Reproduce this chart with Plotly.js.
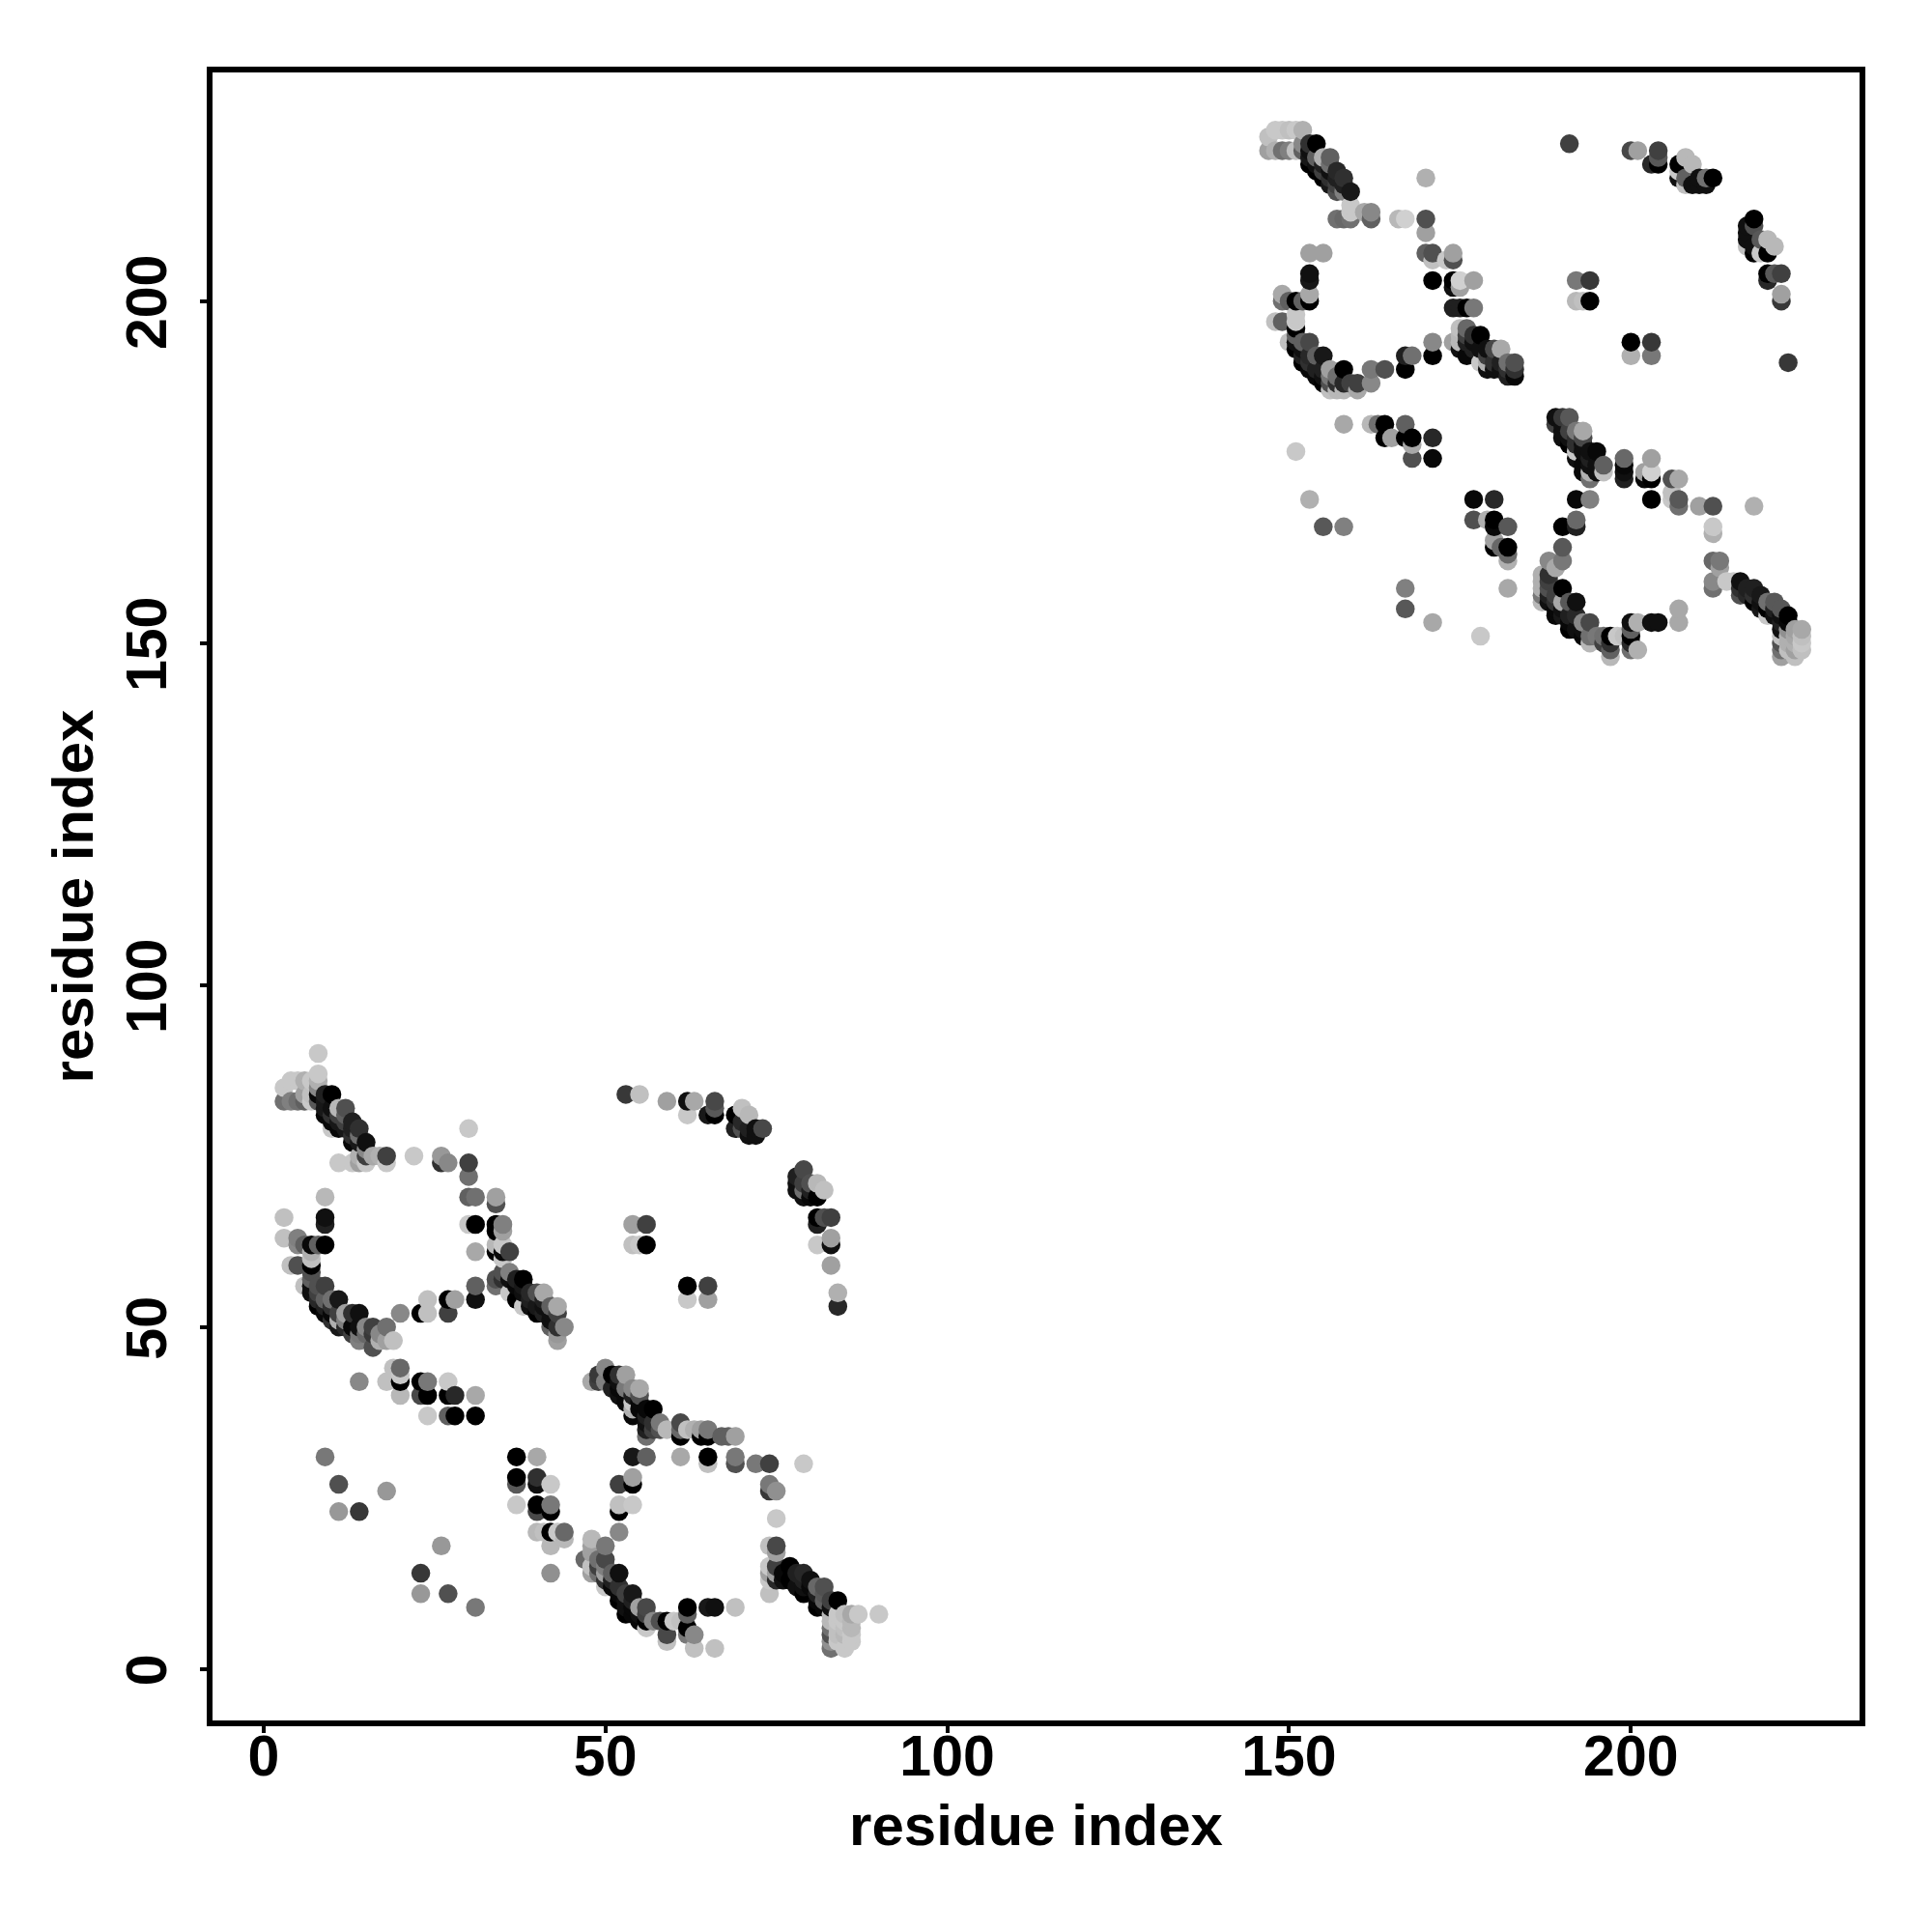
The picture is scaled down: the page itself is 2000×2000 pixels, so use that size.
<!DOCTYPE html>
<html>
<head>
<meta charset="utf-8">
<script src="https://cdn.plot.ly/plotly-3.0.1.min.js"></script>
<style>html,body{margin:0;padding:0;background:#fff}</style>
</head>
<body>
<div id="chart" style="width:2000px;height:2000px"></div>
<script>
// Contacts: [residue i, residue j, grey level 0-255]
const domainOneUpperLeft = [
[3,85,200],[4,86,200],[5,86,200],[6,86,176],[7,86,200],[8,87,200],[8,90,200],[8,86,176],
[3,83,112],[4,83,128],[5,83,112],[6,83,96],[7,83,200],[6,84,160],[7,84,192],[8,85,136],[8,84,8],[8,83,88],
[9,84,32],[10,84,0],[9,83,24],[9,82,24],[9,81,8],[10,82,16],[10,81,48],[11,82,184],[11,81,64],[11,80,24],[10,80,8],[10,79,200],
[11,79,8],[12,82,80],[12,81,96],[12,80,64],[12,79,24],[13,80,32],[13,79,32],[13,78,48],[13,77,8],[14,79,48],[14,78,112],[14,77,24],
[14,75,176],[14,74,160],[15,77,16],[15,76,136],[15,75,64],[15,74,200],[13,74,200],[11,74,200],[16,75,168],[17,75,176],[18,75,64],[18,74,200],
[22,75,200],[26,75,152],[26,74,48],[27,74,136],[30,79,200],[30,74,64],[30,72,112],[30,69,96],[31,69,112],[34,69,160],[34,68,80],
[30,65,200],[31,65,0],[34,65,0],[35,65,128],[34,64,0],[35,64,160],[31,61,168],[34,62,184],[34,61,0],[35,62,200],[35,60,200],[35,61,8],[36,61,64],
[31,56,96],[31,54,16],[34,56,112],[34,57,80],[35,58,80],[35,57,48],[36,58,128],[36,57,16],[37,57,32],[38,57,0],[37,56,8],[37,54,0],[36,55,200],[38,55,16],[38,56,24],
[39,55,40],[39,54,32],[39,53,16],[40,55,80],[41,55,168],[38,53,200],[40,53,24],[41,54,32],[40,52,0],[41,53,16],[41,52,32],[42,53,96],[42,52,16],[42,51,16],[43,53,168],[43,52,64],[43,50,48],[44,50,136],[43,49,152],[43,48,160],[42,50,96]
];
const domainOneRing = [
[9,69,184],[9,66,16],[9,65,32],[3,66,192],[3,63,192],[5,63,128],[5,62,136],[6,62,96],[7,62,8],[8,62,96],[9,62,0],[7,61,176],[7,60,192],[4,59,192],[5,59,80],
[7,59,0],[7,58,80],[7,57,96],[6,56,192],[7,56,16],[8,56,80],[9,56,64],[7,55,16],[8,55,64],[8,54,40],[8,53,0],[9,54,96],[9,53,32],[10,54,112],[11,54,24],[9,52,8],
[10,53,48],[10,52,8],[11,52,64],[10,51,48],[11,51,176],[11,50,24],[12,52,160],[12,51,128],[12,50,40],[13,52,48],[13,50,8],[14,52,16],[13,49,64],[14,50,16],[14,49,120],[14,48,128],
[15,50,136],[15,49,104],[16,50,64],[16,49,56],[16,47,80],[17,49,136],[17,48,176],[18,50,112],[18,48,160],[19,48,192],[20,52,136],[23,52,0],[24,52,192],[24,54,192],[27,54,0],[27,52,64],[28,54,160]
];
const domainOneMiddleLeft = [
[19,44,192],[20,44,104],[20,43,200],[14,42,136],[18,42,192],[20,42,0],[20,40,184],[23,42,0],[24,42,120],[23,40,72],[24,40,0],[27,42,200],[27,40,0],[28,40,40],[31,40,168],
[24,37,200],[27,37,96],[28,37,0],[31,37,0],
[9,31,120],[11,27,80],[11,23,152],[14,23,56],[18,26,152],
[37,31,0],[40,31,168],[37,27,88],[37,28,0],[40,27,16],[40,28,48],[42,27,200],[37,24,200],[40,23,72],[40,24,0],[42,23,0],[42,24,120],
[40,20,184],[41,20,192],[42,20,0],[43,20,200],[44,19,184],[44,20,104],[42,18,184],[42,14,144],
[26,18,152],[23,14,56],[23,11,152],[27,11,80],[31,9,120]
];
const domainOneUpperRight = [
[53,84,56],[55,84,192],[59,83,160],[62,83,16],[63,83,168],[62,81,200],[65,81,24],[66,81,0],[66,82,88],[66,83,72],
[69,81,0],[69,79,32],[70,82,192],[70,80,40],[70,79,80],[71,81,184],[71,79,32],[71,78,16],[72,79,16],[72,78,16],[73,79,72],
[78,72,32],[78,71,16],[78,70,16],[79,73,72],[79,71,64],[79,70,112],[79,69,16],[80,71,80],[80,70,32],[80,69,8],[81,71,184],[81,69,0],[82,70,192],
[81,66,0],[81,65,32],[82,66,80],[83,66,64],[81,62,200],[83,62,16],[83,63,160],[83,59,160],[84,53,40],[84,55,176],
[54,65,160],[56,65,64],[54,62,192],[55,62,200],[56,62,0],[62,54,200],[62,56,0],[65,54,160],[65,56,64]
];
const domainOneLowerRight = [
[48,42,168],[49,43,56],[49,42,64],[50,44,136],[50,42,128],[51,43,0],[51,41,32],[52,43,48],[52,42,16],[52,41,8],[52,40,16],[53,43,160],[53,41,120],[53,40,8],[53,39,8],
[54,41,136],[54,40,32],[54,39,200],[54,38,176],[54,37,8],[55,41,168],[55,40,80],[55,39,8],[55,38,8],[56,38,8],[56,37,32],[56,36,16],[56,35,32],[56,34,112],
[57,38,0],[57,36,48],[57,35,64],[58,36,120],[58,35,80],[59,35,184],[61,36,72],[61,35,104],[61,34,0],[62,35,192],[63,35,176],[64,35,160],[64,34,0],[65,35,120],[65,34,0],[67,34,96],[68,34,96],[69,34,160],
[54,31,24],[56,31,96],[61,31,168],[65,30,192],[65,31,0],[69,30,80],[69,31,120],[72,30,120],[74,30,64],[79,30,200],
[74,26,56],[74,27,120],[75,26,144],[52,27,64],[54,27,0],[54,28,160],[52,23,0],[52,24,192],[54,24,200],[52,20,136],[75,22,200],
[74,18,192],[75,17,160],[75,18,72],[48,19,184],[48,18,160],[48,17,160],[47,16,104],[48,15,192],[48,14,160],[49,16,112],[49,15,64],[49,14,112],[50,18,120],[50,16,72],[50,15,128],[50,14,160],
[51,14,96],[51,13,32],[52,14,16],[51,12,8],[50,12,200],[50,13,48],[52,12,48],[52,11,8],[52,10,0],[53,11,64],[53,10,16],[53,9,16],[53,8,0],[54,11,24],[54,10,32],[54,9,8],[54,8,8],[55,9,160],[55,8,16],[55,7,8],[56,9,72],[56,8,64],[56,7,0],[56,6,200],
[57,7,136],[58,7,80],[59,7,0],[59,5,72],[59,4,192],[60,7,200],[61,7,192],[62,9,0],[62,8,96],[62,6,0],[62,5,120],[63,5,136],[63,3,192],[65,9,24],[66,9,16],[66,3,192],[69,9,192],
[74,15,200],[74,14,160],[74,13,200],[74,11,192],[75,15,64],[75,14,160],[75,13,40],[76,14,8],[76,13,16],[77,15,0],[77,13,0],[78,14,32],[78,12,16],[79,14,40],[79,13,32],[79,12,16],[79,11,0],[80,13,16],[80,12,8],[81,12,104],[81,11,32],[81,10,8],[81,9,0],[82,12,80],[82,11,88],[82,10,96],[82,9,8],[83,10,64],[83,9,16],[83,8,184],
[83,7,184],[83,6,112],[83,5,80],[83,4,144],[83,3,112],[84,10,0],[84,8,200],[84,7,200],[84,6,192],[84,5,192],[84,4,200],[85,8,192],[85,7,200],[85,6,192],[85,5,184],[85,3,200],[86,8,168],[86,7,184],[86,6,184],[86,5,200],[86,4,200],[87,8,200],[90,8,200]
];
const domainTwoUpperLeft = [
[147,224,192],[147,222,160],[148,225,200],[148,222,176],[149,225,200],[149,222,112],[150,225,192],[150,222,128],[151,225,200],[151,222,192],[152,225,176],[152,223,136],[152,222,96],
[153,223,48],[153,222,16],[153,221,24],[153,220,0],[154,223,0],[154,221,96],[154,220,16],[154,219,0],[155,221,176],[155,220,32],[155,219,64],[155,218,0],[156,221,96],[156,220,112],[156,219,16],[156,218,48],[156,217,24],
[157,219,40],[157,218,32],[157,217,64],[157,216,80],[158,218,48],[158,217,32],[158,216,128],[159,216,24],[159,214,200],[159,213,200],[158,212,104],[159,212,112],[157,212,112],[161,213,168],[162,213,136],[162,212,96],
[166,212,184],[167,212,208],[170,212,80],[170,218,176],[170,210,160],[170,207,96],[171,207,80],[171,206,192],[173,206,200],[174,207,160],[174,206,80],[171,203,0],[174,203,0],[175,203,208],[177,203,160],[174,202,16],[175,202,160],
[174,199,32],[175,199,32],[176,199,0],[177,199,120],[171,194,136],[171,192,0],[174,194,160],[175,196,192],[175,195,184],[175,194,184],[175,193,16],[176,196,104],[176,195,64],[176,194,32],[176,192,8],[177,195,48],[177,194,16],[177,193,32],[178,195,0],[178,193,16],[178,191,200],
[179,193,16],[179,192,64],[179,191,176],[179,190,16],[180,193,72],[180,191,48],[180,190,16],[181,193,168],[181,191,32],[181,190,16],[182,191,112],[182,190,48],[182,189,32],[183,191,80],[183,190,48],[183,189,8]
];
const domainTwoRing = [
[153,207,160],[155,207,160],[153,204,16],[153,203,24],[149,201,168],[149,200,112],[150,200,96],[151,200,0],[152,200,96],[153,201,168],[153,200,0],
[148,197,192],[149,197,96],[151,198,200],[151,197,200],[151,196,0],[151,195,96],[150,194,192],[151,194,16],[151,193,0],[152,194,96],[153,194,72],[152,193,16],[152,192,32],[152,191,0],[153,192,40],[153,191,48],[153,190,8],[154,192,96],[154,190,32],[154,189,8],[155,192,24],[155,190,32],[155,189,16],[155,188,0],
[156,190,160],[156,189,120],[156,188,80],[156,187,192],[157,189,112],[157,188,48],[157,187,184],[158,190,0],[158,188,40],[158,187,184],[159,188,64],[160,188,64],[160,187,168],[162,188,136],[162,190,120],[164,190,80],[167,192,32],[168,192,112],[167,190,0]
];
const domainTwoMiddleLeft = [
[158,182,168],[162,182,184],[163,182,112],[164,182,0],[167,182,96],[164,180,0],[165,180,160],[167,180,0],[168,180,0],[168,179,168],[171,180,40],[168,177,80],[171,177,8],
[151,178,200],[153,171,176],[155,167,88],[158,167,128],
[177,171,8],[180,171,40],[177,168,80],[179,168,176],[180,168,0],[180,167,8],[182,167,88],[180,165,160],[180,164,0],[181,164,104],[182,164,0],[182,163,104],[182,162,176],[182,158,168],
[167,158,128],[167,155,88],[171,153,168],[178,151,200]
];
const domainTwoUpperRight = [
[191,223,64],[200,222,72],[201,222,160],[204,222,64],[204,221,88],[203,220,40],[204,220,0],[207,220,0],[207,219,200],[207,218,16],[208,221,184],[208,218,96],[208,217,192],[209,220,184],[209,217,16],[210,218,16],[210,217,16],[211,218,112],[211,217,16],[212,218,0],
[218,212,0],[217,211,16],[218,211,80],[217,210,16],[217,209,16],[217,208,192],[218,208,16],[218,207,0],[219,209,88],[219,207,200],[220,209,184],[220,207,0],[221,208,184],
[220,204,0],[220,203,40],[221,204,88],[222,204,64],[222,201,160],[222,200,56],[223,191,56],
[192,203,120],[194,203,56],[192,200,184],[193,200,192],[194,200,0],[200,194,0],[203,194,56],[200,192,176],[203,192,120]
];
const domainTwoLowerRight = [
[189,183,16],[190,183,56],[191,183,88],[189,182,64],[190,182,16],[190,181,16],[190,180,16],[191,181,64],[191,180,16],[191,179,0],[192,181,120],[192,180,48],[192,179,48],[192,178,200],[192,177,16],[193,181,168],[193,180,72],[193,179,16],[193,178,16],[193,176,8],[193,175,8],
[194,178,16],[194,177,32],[194,176,16],[194,175,176],[194,174,112],[195,178,8],[195,176,16],[195,175,16],[196,176,96],[196,175,192],
[199,177,104],[199,176,8],[199,175,16],[199,174,32],[202,175,160],[202,174,8],[203,177,160],[203,175,208],[203,174,0],[206,174,80],[207,174,168],[206,172,192],[206,171,200],[207,171,88],[207,170,112],[210,170,160],[212,170,80],[218,170,176],
[192,171,8],[194,171,128],[203,171,0],[190,167,0],[192,168,104],[192,167,32],[190,164,88],[188,162,136],[190,162,120],
[212,167,200],[212,166,176],[212,162,104],[213,162,120],[213,161,160],[212,159,136],[212,158,112],[214,159,200],[215,159,200],[216,159,16],[216,158,48],[216,157,80],[217,158,32],[217,157,40],[218,158,32],[218,157,48],[218,156,0],[219,157,24],[219,156,16],[219,155,24],[220,156,112],[220,155,0],[220,154,200],
[221,156,88],[221,155,32],[221,154,16],[222,155,88],[222,154,16],[222,153,32],[222,152,16],[223,154,0],[223,153,8],[222,151,192],[222,150,80],[222,149,112],[222,148,160],[223,152,144],[223,151,176],[223,150,176],[223,149,192],[224,152,160],[224,151,168],[224,150,176],[224,149,160],[224,148,192],[225,152,168],[225,151,192],[225,150,200],[225,149,192]
];
const domainTwoRingLower = [
[189,161,168],[187,160,176],[188,160,48],[187,159,176],[188,159,64],[187,158,176],[188,158,80],[190,158,0],[187,157,120],[188,157,32],[187,156,184],[188,156,16],[189,157,64],[189,156,48],[190,156,168],[191,156,88],[192,156,16],
[189,155,8],[189,154,8],[190,155,16],[190,154,24],[191,154,32],[191,153,8],[191,152,0],[192,154,40],[192,152,16],[193,153,136],[193,152,16],[193,151,8],[194,153,72],[194,151,112],[194,150,184],
[195,151,120],[196,151,112],[196,150,64],[197,151,0],[197,150,48],[197,149,96],[197,148,184],[198,151,200],[199,151,192],[200,153,16],[200,152,96],[200,151,0],[200,150,40],[200,149,112],[201,153,176],[201,149,176],[203,153,16],[204,153,16],[207,155,168],[207,153,168]
];

const groups = [domainOneUpperLeft, domainOneRing, domainOneMiddleLeft, domainOneUpperRight, domainOneLowerRight,
                domainTwoUpperLeft, domainTwoRing, domainTwoMiddleLeft, domainTwoUpperRight, domainTwoLowerRight, domainTwoRingLower];
const tickValues = [0, 50, 100, 150, 200];
const tickLabels = ["0", "50", "100", "150", "200"];

// Painted by column, then by row: later residues lie on top.
const contacts = groups.flat().sort((a, b) => (a[0] - b[0]) || (a[1] - b[1]));

const axisCommon = {
  showgrid: false, zeroline: false, showline: true, mirror: true,
  linecolor: '#000', linewidth: 6,
  ticks: 'outside', ticklen: 7, tickwidth: 4, tickcolor: '#000',
  tickmode: 'array', tickvals: tickValues, ticktext: tickLabels,
  tickfont: {family: 'Liberation Sans', size: 59, color: '#000', weight: 700},
  automargin: false
};

Plotly.newPlot('chart', [{
  type: 'scatter', mode: 'markers',
  x: contacts.map(c => c[0]),
  y: contacts.map(c => c[1]),
  marker: {
    size: 19.5, line: {width: 0}, opacity: 1,
    color: contacts.map(c => c[2]),
    cmin: 0, cmax: 255,
    colorscale: [[0, 'rgb(0,0,0)'], [1, 'rgb(255,255,255)']],
    showscale: false
  },
  hoverinfo: 'x+y'
}], {
  width: 2000, height: 2000,
  autosize: false,
  paper_bgcolor: '#fff', plot_bgcolor: '#fff',
  showlegend: false,
  margin: {l: 219.5, r: 75, t: 75, b: 219, pad: 0},
  xaxis: Object.assign({}, axisCommon, {
    range: [-7.46, 233.44],
    ticklabelstandoff: -27,
    title: {text: '<b>residue index</b>', standoff: 20,
            font: {family: 'Liberation Sans', size: 60, color: '#000'}}
  }),
  yaxis: Object.assign({}, axisCommon, {
    range: [-7.53, 233.43],
    tickangle: -90,
    ticklabelstandoff: 11,
    ticklabelshift: 10,
    title: {text: '<b>residue index</b>', standoff: 5,
            font: {family: 'Liberation Sans', size: 60, color: '#000'}}
  })
}, {displayModeBar: false, staticPlot: true});
</script>
</body>
</html>
